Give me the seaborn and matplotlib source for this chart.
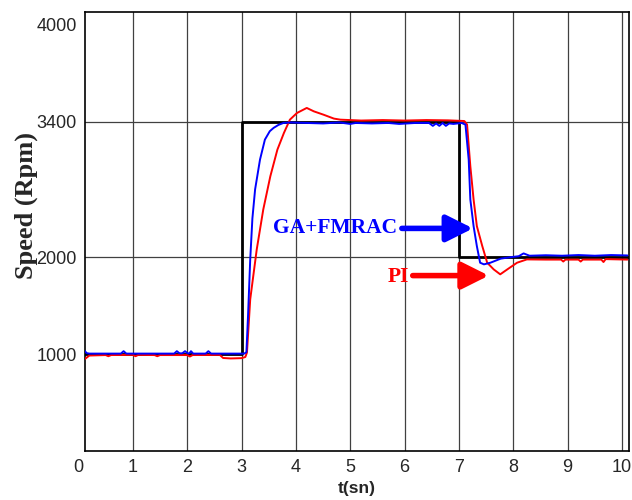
import pandas as pd
import matplotlib.pyplot as plt
import seaborn as sns

# reference speed (step command)
ref_t = [0.12, 3.0, 3.0, 7.0, 7.0, 10.13]
ref_v = [1000, 1000, 3400, 3400, 2000, 2000]

# GA+FMRAC response
ga_t = [0.12, 0.15, 0.2, 0.78, 0.83, 0.88, 1.76, 1.81, 1.86, 1.91, 1.96, 2.01, 2.04, 2.07, 2.11,
        2.34, 2.39, 2.44, 3.05, 3.09, 3.12, 3.16, 3.2, 3.25, 3.34, 3.43, 3.52, 3.59, 3.68, 3.77,
        3.9, 4.2, 4.5, 4.8, 5.0, 5.1, 5.4, 5.7, 5.9, 6.2, 6.45, 6.52, 6.58, 6.64, 6.7, 6.76, 6.82,
        6.9, 7.05, 7.12, 7.18, 7.21, 7.27, 7.33, 7.39, 7.46, 7.58, 7.77, 7.95, 8.1, 8.19, 8.3,
        8.6, 8.9, 9.2, 9.5, 9.8, 10.1]
ga_v = [1030, 1010, 1005, 1005, 1030, 1005, 1005, 1030, 1008, 1008, 1030, 1008, 1008, 1030, 1005,
        1005, 1030, 1005, 1005, 1020, 1400, 1977, 2400, 2700, 3007, 3213, 3300, 3334, 3365, 3385,
        3390, 3385, 3380, 3390, 3375, 3385, 3380, 3385, 3375, 3385, 3385, 3355, 3380, 3355, 3385, 3355, 3380,
        3375, 3385, 3368, 3007, 2595, 2320, 2114, 1943, 1926, 1943, 1985, 2000, 2010, 2039, 2015,
        2020, 2015, 2022, 2015, 2022, 2018]

# PI response
pi_t = [0.12, 0.2, 0.5, 0.55, 0.6, 1.0, 1.05, 1.1, 1.4, 1.45, 1.5, 2.0, 2.05, 2.1, 2.6, 2.66,
        2.8, 3.0, 3.07, 3.1, 3.16, 3.28, 3.40, 3.53, 3.66, 3.78, 3.89, 4.02, 4.2, 4.33, 4.51,
        4.7, 4.82, 5.2, 5.6, 6.0, 6.4, 6.8, 7.1, 7.15, 7.21, 7.27, 7.33, 7.43, 7.52, 7.64, 7.76,
        7.89, 8.07, 8.25, 8.6, 8.88, 8.92, 8.96, 9.2, 9.24, 9.28, 9.62, 9.66, 9.7, 10.1]
pi_v = [950, 985, 990, 978, 990, 992, 978, 992, 990, 978, 990, 990, 975, 990, 992, 960,
        955, 958, 970, 1016, 1565, 2080, 2492, 2835, 3110, 3282, 3419, 3488, 3540, 3505, 3470,
        3430, 3419, 3410, 3415, 3410, 3415, 3412, 3405, 3368, 2938, 2595, 2320, 2114, 1943, 1874, 1823,
        1874, 1943, 1977, 1975, 1975, 1955, 1975, 1975, 1955, 1975, 1975, 1950, 1980, 1975]

x_ticks = [1, 2, 3, 4, 5, 6, 7, 8, 9, 10]
y_ticks = [1000, 2000, 3400, 4400]
y_labels = ['1000', '2000', '3400', '4000']

sns.set_style("white")
plt.rcParams['font.family'] = ['Liberation Sans', 'DejaVu Sans']

fig = plt.figure(figsize=(6.32, 5.0), dpi=100)
ax = fig.add_axes([0.1345, 0.098, 0.8608, 0.878])

# grid first so the curves sit on top
for x in x_ticks:
    ax.axvline(x, color='0.25', lw=0.9, zorder=1)
for y in [2000, 3400]:
    ax.axhline(y, color='0.25', lw=0.9, zorder=1)

ref = pd.DataFrame({'t': ref_t, 'v': ref_v})
ga = pd.DataFrame({'t': ga_t, 'v': ga_v})
pi = pd.DataFrame({'t': pi_t, 'v': pi_v})

sns.lineplot(data=ref, x='t', y='v', sort=False, estimator=None, color='black', lw=2.0, ax=ax, zorder=3)
sns.lineplot(data=pi, x='t', y='v', sort=False, estimator=None, color='#ff0000', lw=1.4, ax=ax, zorder=4)
sns.lineplot(data=ga, x='t', y='v', sort=False, estimator=None, color='#0000ff', lw=1.4, ax=ax, zorder=5)

ax.set_xlim(0.12, 10.13)
ax.set_ylim(0, 4530)
ax.set_xticks(x_ticks)
ax.set_yticks(y_ticks)
ax.set_yticklabels(y_labels)
ax.tick_params(axis='both', direction='in', length=0, labelsize=13, pad=6)
ax.text(0, -0.018, '0', transform=ax.get_xaxis_transform(), ha='center', va='top', fontsize=13)

for s in ax.spines.values():
    s.set_color('black')
    s.set_linewidth(1.2)

ax.set_xlabel('t(sn)', fontsize=12.5, fontweight='bold', labelpad=3)
ax.set_ylabel('Speed (Rpm)', fontsize=19, fontweight='bold', family='Liberation Serif')
ax.yaxis.set_label_coords(-0.087, 0.56)

# labels with arrows
ax.text(5.86, 2297, 'GA+FMRAC', color='#0000ff', fontsize=15.5, fontweight='bold',
        family='Liberation Serif', ha='right', va='center')
ax.annotate('', xy=(7.26, 2297), xytext=(5.95, 2297),
            arrowprops=dict(arrowstyle='-|>,head_length=0.9,head_width=0.45', lw=4,
                            color='#0000ff', mutation_scale=18, shrinkA=0, shrinkB=0))
ax.text(6.08, 1795, 'PI', color='#ff0000', fontsize=15.5, fontweight='bold',
        family='Liberation Serif', ha='right', va='center')
ax.annotate('', xy=(7.55, 1810), xytext=(6.15, 1810),
            arrowprops=dict(arrowstyle='-|>,head_length=0.9,head_width=0.45', lw=4,
                            color='#ff0000', mutation_scale=18, shrinkA=0, shrinkB=0))

plt.savefig('out.png', dpi=100)
